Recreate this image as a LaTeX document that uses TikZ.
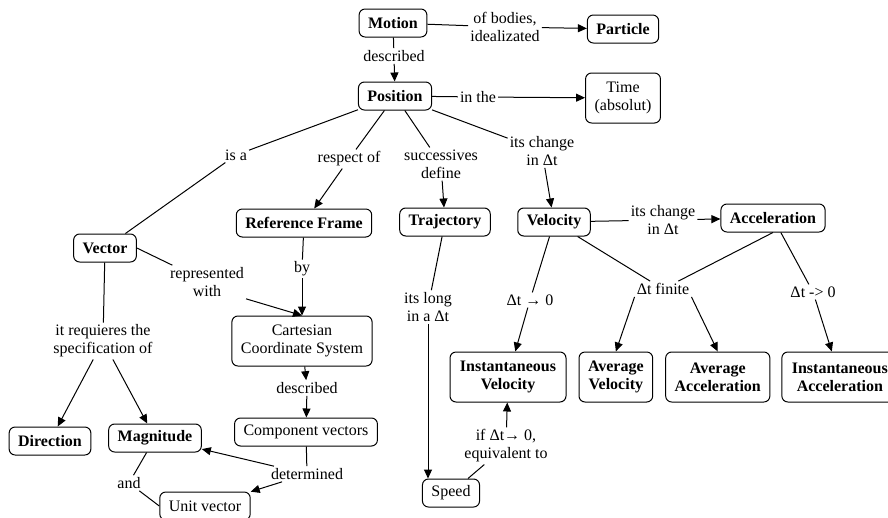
\documentclass[tikz,border=0pt]{standalone}
\usepackage{fontspec}
\setmainfont{Liberation Serif}
\usetikzlibrary{arrows.meta, positioning}

\begin{document}
\fontsize{16}{18}\selectfont
\begin{tikzpicture}[x=1pt, y=-1pt,
  concept/.style={rectangle, rounded corners=6pt, draw, line width=1pt, align=center, font=\bfseries, inner xsep=9pt, inner ysep=4pt, minimum height=28pt},
  plain/.style={font=\mdseries},
  tall/.style={minimum height=50pt},
  phrase/.style={align=center, inner sep=2pt},
  link/.style={line width=1pt},
  arrow/.style={link, -{Triangle[length=9pt, width=8pt]}}]
\useasboundingbox (0,0) rectangle (888,517);
\clip (0,0) rectangle (888,517);

\node (motion) [concept] at (393,23) {Motion};
\node (ofbodies) [phrase] at (505,27) {of bodies,\\idealizated};
\node (particle) [concept] at (623,29) {Particle};
\node (described1) [phrase] at (394,56) {described};
\node (position) [concept] at (395,96) {Position};
\node (inthe) [phrase] at (478,97) {in the};
\node (time) [concept, plain, tall] at (623,98) {Time\\(absolut)};

\node (isa) [phrase] at (236,155) {is a};
\node (respectof) [phrase] at (349,159) {respect of};
\node (successives) [phrase] at (441,164) {successives\\define};
\node (itschange1) [phrase] at (542,151) {its change\\in Δt};

\node (vector) [concept] at (105,248) {Vector};
\node (refframe) [concept] at (304,223) {Reference Frame};
\node (trajectory) [concept] at (445,222) {Trajectory};
\node (velocity) [concept] at (554,222) {Velocity};
\node (itschange2) [phrase] at (663,220) {its change\\in Δt};
\node (acceleration) [concept] at (773,218) {Acceleration};

\node (represented) [phrase] at (207,282) {represented\\with};
\node (by) [phrase] at (302,269) {by};
\node (itslong) [phrase] at (428,307) {its long\\in a Δt};
\node (tozero1) [phrase] at (530,300) {Δt → 0};
\node (finite) [phrase] at (663,289) {Δt finite};
\node (tozero2) [phrase] at (813,292) {Δt -> 0};

\node (cartesian) [concept, plain, tall] at (302,341) {Cartesian\\Coordinate System};
\node (requires) [phrase] at (103,341) {it requieres the\\specification of};
\node (instvel) [concept, tall, minimum width=116pt] at (508,377) {Instantaneous\\Velocity};
\node (avgvel) [concept, tall, right=12pt of instvel] {Average\\Velocity};
\node (avgacc) [concept, tall, right=12pt of avgvel] {Average\\Acceleration};
\node (instacc) [concept, tall, minimum width=116pt, right=11pt of avgacc] {Instantaneous\\Acceleration};

\node (described2) [phrase] at (307,388) {described};
\node (component) [concept, plain] at (306,432) {Component vectors};
\node (direction) [concept] at (50,441) {Direction};
\node (magnitude) [concept] at (155,438) {Magnitude};
\node (equivalent) [phrase] at (506,446) {if Δt→ 0,\\equivalent to};
\node (determined) [phrase] at (307,474) {determined};
\node (and) [phrase] at (129,483) {and};
\node (speed) [concept, plain] at (451,493) {Speed};
\node (unitvec) [concept, plain] at (205,506) {Unit vector};

% motion and position
\draw [link] (motion) -- (ofbodies);
\draw [arrow] (ofbodies) -- (particle);
\draw [link] (motion) -- (described1);
\draw [arrow] (described1) -- (position);
\draw [link] (position) -- (inthe);
\draw [arrow] (inthe) -- (time);
\draw [link] (position) -- (isa);
\draw [link] (isa) -- (vector);
\draw [link] (position) -- (respectof);
\draw [arrow] (respectof) -- (refframe);
\draw [link] (position) -- (successives);
\draw [arrow] (successives) -- (trajectory);
\draw [link] (position) -- (itschange1);
\draw [arrow] (itschange1) -- (velocity);

% velocity and acceleration
\draw [link] (velocity) -- (itschange2);
\draw [arrow] (itschange2) -- (acceleration);
\draw [link] (velocity) -- (tozero1);
\draw [arrow] (tozero1) -- (instvel);
\draw [link] (velocity) -- (finite);
\draw [link] (acceleration.south) -- (finite);
\draw [arrow] (finite.south west) -- (avgvel.north);
\draw [arrow] (finite.south east) -- (avgacc.north);
\draw [link] (acceleration) -- (tozero2);
\draw [arrow] (tozero2) -- (instacc);

% trajectory
\draw [link] (trajectory) -- (itslong);
\draw [arrow] (itslong) -- (itslong |- speed.north);
\draw [link] (speed) -- (equivalent);
\draw [arrow] (equivalent) -- (instvel);

% vector and frame
\draw [link] (vector.east) -- (represented);
\draw [arrow] (represented.south east) -- (cartesian.north);
\draw [link] (refframe) -- (by);
\draw [arrow] (by) -- (cartesian);
\draw [arrow] (cartesian) -- (described2);
\draw [arrow] (described2) -- (component);
\draw [link] (component) -- (determined);
\draw [arrow] (determined) -- (magnitude);
\draw [arrow] (determined) -- (unitvec);
\draw [link] (vector) -- (requires);
\draw [arrow] (requires) -- (direction);
\draw [arrow] (requires) -- (magnitude);
\draw [link] (magnitude) -- (and);
\draw [link] (and) -- (unitvec.west);
\end{tikzpicture}
\end{document}
